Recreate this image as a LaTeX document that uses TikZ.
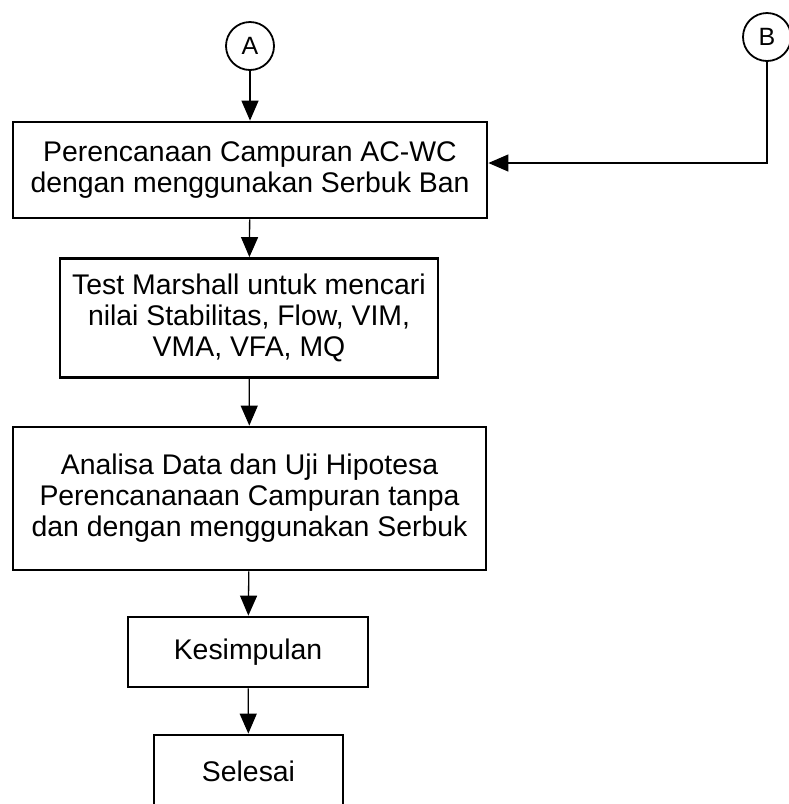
\documentclass[tikz,border=0pt]{standalone}
\usepackage{fontspec}
\setmainfont{Liberation Sans}
\usetikzlibrary{arrows.meta}
\tikzstyle{proc}=[rectangle,draw=black,fill=white,line width=2.8pt,align=center,inner sep=0pt,font=\fontsize{28.4}{31}\selectfont]
\tikzstyle{conn}=[circle,draw=black,fill=white,line width=1.8pt,minimum size=48pt,inner sep=0pt,font=\fontsize{25}{30}\selectfont]
\tikzstyle{arr}=[-{Triangle[length=20pt,width=17pt]},draw=black,line width=1.3pt]
\begin{document}
\begin{tikzpicture}[x=1pt,y=1pt]
        \clip (0,0) rectangle (789,-804);
        \node[conn] (A) at (250,-46) {A};
        \node[conn] (B) at (767,-37) {B};
        \node[proc,minimum width=474pt,minimum height=96pt] (P1) at (250,-170) {Perencanaan Campuran AC-WC\\dengan menggunakan Serbuk Ban};
        \node[proc,minimum width=378pt,minimum height=119pt] (P2) at (249,-318) {Test Marshall untuk mencari\\nilai Stabilitas, Flow, VIM,\\VMA, VFA, MQ};
        \node[proc,minimum width=473pt,minimum height=143pt] (P3) at (249.5,-498.5) {Analisa Data dan Uji Hipotesa\\Perencananaan Campuran tanpa\\dan dengan menggunakan Serbuk};
        \node[proc,minimum width=240pt,minimum height=70pt] (P4) at (248,-652) {Kesimpulan};
        \node[proc,minimum width=189pt,minimum height=72pt] (P5) at (248.5,-771) {Selesai};
        \draw[arr] (A) edge (P1);
        \draw[arr] (P1) edge (P2);
        \draw[arr] (P2) edge (P3);
        \draw[arr] (P3) edge (P4);
        \draw[arr] (P4) edge (P5);
        \draw[arr] (B) |- ([yshift=7pt]P1.east);
      \end{tikzpicture}
\end{document}
